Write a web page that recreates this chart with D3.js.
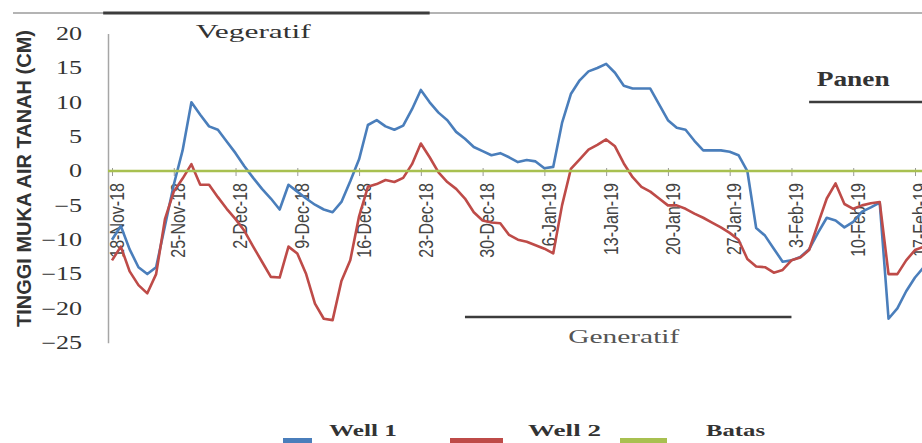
<!DOCTYPE html>
<html>
<head>
<meta charset="utf-8">
<script src="https://cdn.jsdelivr.net/npm/d3@7"></script>
<style>
	body { margin: 0; background: #fff; }
	svg { display: block; }
</style>
</head>
<body>
<script>
// data
var startDay = '18-Nov-18';
var well1 = [
	-10, -8, -11.4, -14, -15, -14, -8, -2, 3, 10,
	8.2, 6.5, 6, 4.3, 2.6, 0.7, -1, -2.6, -4, -5.6,
	-2, -3, -4, -4.9, -5.6, -6, -4.5, -1.5, 1.7, 6.7,
	7.4, 6.5, 6, 6.6, 9, 11.8, 10, 8.5, 7.4, 5.7,
	4.7, 3.5, 2.9, 2.3, 2.6, 2, 1.3, 1.6, 1.4, 0.4,
	0.6, 7, 11.2, 13.2, 14.5, 15, 15.6, 14.3, 12.4, 12,
	12, 12, 9.7, 7.4, 6.3, 6, 4.4, 3, 3, 3,
	2.8, 2.3, 0, -8.3, -9.4, -11.3, -13.2, -13, -12.5, -11.4,
	-9, -6.8, -7.2, -8.2, -7.4, -5.9, -5.3, -4.6, -21.5, -20,
	-17.5, -15.5, -14
];
var well2 = [
	-13, -11, -14.6, -16.6, -17.8, -15, -7, -3, -1.1, 1,
	-2, -2, -3.8, -5.5, -7, -8.7, -11, -13.2, -15.4, -15.5,
	-11, -12, -15, -19.3, -21.5, -21.7, -16, -13, -6.6, -2.3,
	-1.9, -1.3, -1.6, -1, 1, 4, 2, -0.2, -1.6, -2.6,
	-4, -6, -7.2, -7.5, -7.6, -9.3, -10, -10.3, -10.8, -11.3,
	-12, -5, 0.3, 1.7, 3.1, 3.8, 4.6, 3.6, 1.1, -0.9,
	-2.3, -3, -4, -5, -5, -5.5, -6.2, -6.8, -7.5, -8.2,
	-9, -10, -12.8, -13.9, -14, -14.8, -14.4, -13, -12.6, -11.5,
	-7.7, -4, -1.8, -4.8, -5.5, -5, -4.7, -4.5, -15, -15,
	-13, -11.5, -11
];
var batas = 0;

var xTickLabels = ['18-Nov-18', '25-Nov-18', '2-Dec-18', '9-Dec-18', '16-Dec-18', '23-Dec-18',
	'30-Dec-18', '6-Jan-19', '13-Jan-19', '20-Jan-19', '27-Jan-19', '3-Feb-19', '10-Feb-19', '17-Feb-19'];
var yTicks = [20, 15, 10, 5, 0, -5, -10, -15, -20, -25];
var yTitle = 'TINGGI MUKA AIR TANAH (CM)';

var seriesNames = ['Well 1', 'Well 2', 'Batas'];
var seriesColors = ['#4a7ebb', '#be4b48', '#a8c050'];

var phaseNames = ['Vegeratif', 'Generatif', 'Panen'];
var phaseStart = ['17-Nov-18', '28-Dec-18', '5-Feb-19'];
var phaseEnd = ['24-Dec-18', '3-Feb-19', '22-Feb-19'];
var phaseLabelAt = ['4-Dec-18', '15-Jan-19', '10-Feb-19'];

// chart
var W = 922, H = 443;
var parseDay = d3.timeParse('%d-%b-%y');
var day0 = parseDay(startDay);
var dates = well1.map(function (v, i) { return d3.timeDay.offset(day0, i); });

var svg = d3.select('body').append('svg')
	.attr('width', W)
	.attr('height', H);

var x = d3.scaleTime()
	.domain([parseDay('18-Nov-18'), parseDay('17-Feb-19')])
	.range([112, 915]);
var y = d3.scaleLinear()
	.domain([-25, 20])
	.range([342.8, 33.6]);

// frame line at the top
svg.append('line')
	.attr('x1', 13).attr('x2', W)
	.attr('y1', 13).attr('y2', 13)
	.attr('stroke', '#b4b4b4')
	.attr('stroke-width', 2);

// y axis
var y_axis = d3.axisLeft(y)
	.tickValues(yTicks)
	.tickSize(0)
	.tickPadding(26);
var gy = svg.append('g')
	.attr('transform', 'translate(108,0)')
	.call(y_axis);
gy.select('.domain').attr('stroke', '#a6a6a6').attr('stroke-width', 1.5);
gy.selectAll('text')
	.attr('x', -26 / 1.45)
	.attr('transform', 'scale(1.45,1)')
	.style('font-family', '"Liberation Serif", serif')
	.style('font-size', '18px')
	.attr('fill', '#333');

svg.append('text')
	.attr('transform', 'translate(31,178.5) rotate(-90) scale(1,1.35)')
	.attr('text-anchor', 'middle')
	.attr('textLength', 297)
	.attr('lengthAdjust', 'spacingAndGlyphs')
	.style('font-family', '"Liberation Sans", Arial, sans-serif')
	.style('font-size', '15px')
	.style('font-weight', 'bold')
	.attr('fill', '#333')
	.text(yTitle);

// x axis on the zero line
var x_axis = d3.axisBottom(x)
	.tickValues(xTickLabels.map(parseDay))
	.tickSize(5)
	.tickFormat(function (d, i) { return xTickLabels[i]; });
var gx = svg.append('g')
	.attr('transform', 'translate(0,' + y(0) + ')')
	.call(x_axis);
gx.select('.domain').remove();
gx.selectAll('.tick line').attr('stroke', '#999').attr('y1', -3);
gx.selectAll('text')
	.attr('transform', 'rotate(-90) scale(1,1.3)')
	.attr('x', -12)
	.attr('y', 3)
	.attr('dy', '0.35em')
	.style('text-anchor', 'end')
	.style('font-family', '"Liberation Sans", Arial, sans-serif')
	.style('font-size', '16px')
	.attr('fill', '#444');

// series
var line = d3.line()
	.x(function (d, i) { return x(dates[i]); })
	.y(function (d) { return y(d); });

[well1, well2].forEach(function (s, k) {
	svg.append('path')
		.datum(s)
		.attr('d', line)
		.attr('fill', 'none')
		.attr('stroke', seriesColors[k])
		.attr('stroke-width', 2.6)
		.attr('stroke-linejoin', 'round');
});

svg.append('line')
	.attr('x1', 108).attr('x2', W)
	.attr('y1', y(batas)).attr('y2', y(batas))
	.attr('stroke', seriesColors[2])
	.attr('stroke-width', 2.6);

// growth phases
var phaseLineY = [13, 317, 102];
var phaseTextY = [38, 343, 86];
var phaseTextLen = [115, 111, 73];
var phaseFont = [19, 19, 20];
phaseNames.forEach(function (name, i) {
	svg.append('line')
		.attr('x1', x(parseDay(phaseStart[i])))
		.attr('x2', Math.min(W, x(parseDay(phaseEnd[i]))))
		.attr('y1', phaseLineY[i]).attr('y2', phaseLineY[i])
		.attr('stroke', '#3c3c3c')
		.attr('stroke-width', i == 0 ? 3 : 2.5);
	svg.append('text')
		.attr('x', x(parseDay(phaseLabelAt[i])))
		.attr('y', phaseTextY[i])
		.attr('text-anchor', 'middle')
		.attr('textLength', phaseTextLen[i])
		.attr('lengthAdjust', 'spacingAndGlyphs')
		.style('font-family', '"Liberation Serif", serif')
		.style('font-size', phaseFont[i] + 'px')
		.style('font-weight', i == 2 ? 'bold' : 'normal')
		.attr('fill', i == 1 ? '#555' : '#333')
		.text(name);
});

// legend
var legTextX = [329, 528, 706];
var legTextLen = [68, 73, 59];
var legSwatch = [[283, 312], [450, 503], [620, 667]];
seriesNames.forEach(function (name, i) {
	svg.append('rect')
		.attr('x', legSwatch[i][0])
		.attr('y', 438)
		.attr('width', legSwatch[i][1] - legSwatch[i][0])
		.attr('height', 6)
		.attr('fill', seriesColors[i]);
	svg.append('text')
		.attr('x', legTextX[i])
		.attr('y', 436)
		.attr('textLength', legTextLen[i])
		.attr('lengthAdjust', 'spacingAndGlyphs')
		.style('font-family', '"Liberation Serif", serif')
		.style('font-size', '17px')
		.style('font-weight', 'bold')
		.attr('fill', '#333')
		.text(name);
});
</script>
</body>
</html>
